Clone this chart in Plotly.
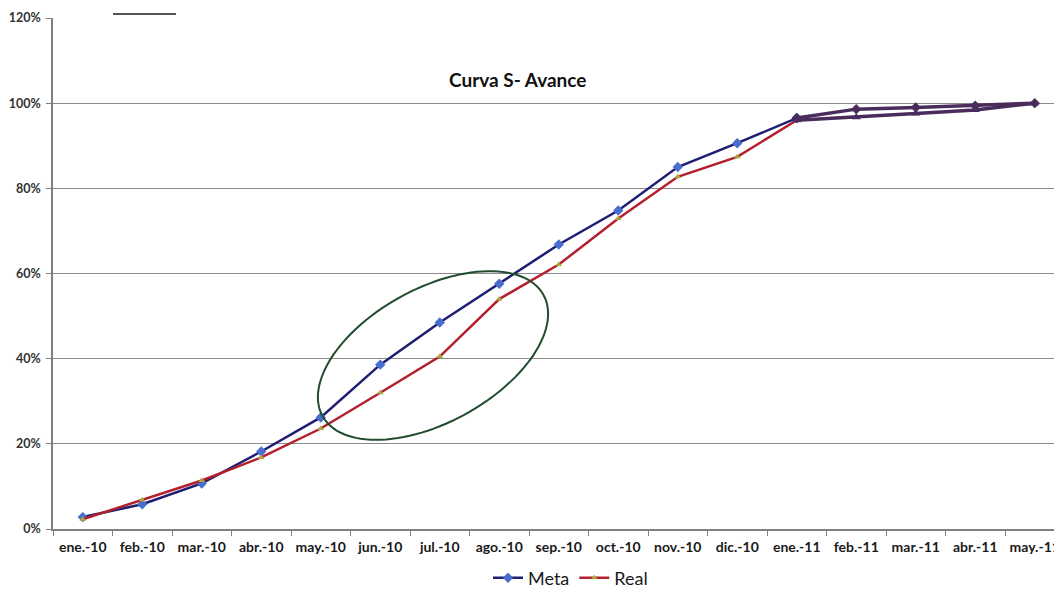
import numpy as np
import plotly.graph_objects as go

# Monthly cumulative progress (fraction of total work)
meses = ["ene.-10", "feb.-10", "mar.-10", "abr.-10", "may.-10", "jun.-10",
         "jul.-10", "ago.-10", "sep.-10", "oct.-10", "nov.-10", "dic.-10",
         "ene.-11", "feb.-11", "mar.-11", "abr.-11", "may.-11"]
meta = [0.028, 0.058, 0.107, 0.182, 0.262, 0.386, 0.485, 0.576, 0.668,
        0.748, 0.850, 0.906, 0.965, 0.986, 0.990, 0.994, 1.000]
real = [0.023, 0.068, 0.114, 0.168, 0.236, 0.320, 0.405, 0.540, 0.621,
        0.729, 0.827, 0.874, 0.960, 0.967, 0.976, 0.984, 1.000]

# Index where the final (edited) tail of both curves starts
TAIL = 12

FONT = "Lato"
META_LINE = "#1e1e72"
META_MARK = "#4a6ed0"
REAL_LINE = "#b3202c"
REAL_MARK = "#a9a63e"
TAIL_COLOR = "#4a2c5c"

fig = go.Figure()

fig.add_trace(go.Scatter(
    x=meses[:TAIL + 1], y=meta[:TAIL + 1], name="Meta", mode="lines+markers",
    line=dict(color=META_LINE, width=2.5),
    marker=dict(symbol="diamond", size=8, color=META_MARK),
))
fig.add_trace(go.Scatter(
    x=meses[:TAIL + 1], y=real[:TAIL + 1], name="Real", mode="lines+markers",
    line=dict(color=REAL_LINE, width=2.5),
    marker=dict(symbol="triangle-up", size=6, color=REAL_MARK),
))
# Tail segments, drawn in a single dark tone
for serie, sym in ((meta, "diamond"), (real, "triangle-up")):
    fig.add_trace(go.Scatter(
        x=meses[TAIL:], y=serie[TAIL:], mode="lines+markers", showlegend=False,
        line=dict(color=TAIL_COLOR, width=3.5),
        marker=dict(symbol=sym, size=8, color=TAIL_COLOR),
        hoverinfo="skip",
    ))

# Plot-area geometry in pixels (used for the highlight ellipse)
W, H = 1054, 592
L, T, B = 53, 18, 63
PW, PH = W - L, H - T - B

# Highlight ellipse around the jun.-ago. gap
cx, cy, a, b, theta = 433.0, 355.5, 126.0, 67.0, np.radians(28.7)
t = np.linspace(0, 2 * np.pi, 120)
u, v = a * np.cos(t), b * np.sin(t)
px = cx + u * np.cos(theta) - v * np.sin(theta)
py = cy - (u * np.sin(theta) + v * np.cos(theta))
ex = (px - L) / PW
ey = (H - B - py) / PH
path = "M " + " L ".join(f"{x:.4f},{y:.4f}" for x, y in zip(ex, ey)) + " Z"

shapes = [
    dict(type="path", path=path, xref="paper", yref="paper",
         line=dict(color="#1f4d2e", width=2)),
    # short dark stroke on the top border
    dict(type="line", xref="paper", yref="paper",
         x0=(113 - L) / PW, x1=(176 - L) / PW, y0=(H - B - 14) / PH, y1=(H - B - 14) / PH,
         line=dict(color="#555555", width=2)),
]

fig.update_layout(
    width=W, height=H,
    margin=dict(l=L, r=0, t=T, b=B, autoexpand=False),
    paper_bgcolor="white", plot_bgcolor="white",
    font=dict(family=FONT, color="#1a1a1a"),
    shapes=shapes,
    showlegend=True,
    legend=dict(orientation="h", x=0.517, xanchor="center", y=-0.096, yanchor="middle",
                font=dict(family=FONT, size=18, color="#1a1a1a"),
                itemwidth=30, tracegroupgap=0),
    annotations=[dict(text="<b>Curva S- Avance</b>", xref="paper", yref="paper",
                      x=0.4645, y=0.88, xanchor="center", yanchor="middle",
                      showarrow=False,
                      font=dict(family=FONT, size=19, color="#111111"))],
)

fig.update_xaxes(
    type="category", categoryorder="array", categoryarray=meses,
    range=[-0.5, -0.5 + PW / 59.5],
    showgrid=False, showline=True, linecolor="#7f7f7f", linewidth=1.5,
    ticks="outside", tickson="boundaries", ticklen=5, tickcolor="#7f7f7f",
    tickfont=dict(family=FONT, size=14, color="#1a1a1a", weight="bold"),
    ticklabelstandoff=4,
)
fig.update_yaxes(
    range=[0, 1.2], dtick=0.2, tickformat=".0%",
    showgrid=True, gridcolor="#8c8c8c", gridwidth=1,
    showline=True, linecolor="#7f7f7f", linewidth=1.5,
    ticks="outside", ticklen=5, tickcolor="#7f7f7f",
    tickfont=dict(family=FONT, size=12.5, color="#333333", weight="bold"),
    ticklabelstandoff=3,
    zeroline=False,
)

fig.write_html("out.html")
